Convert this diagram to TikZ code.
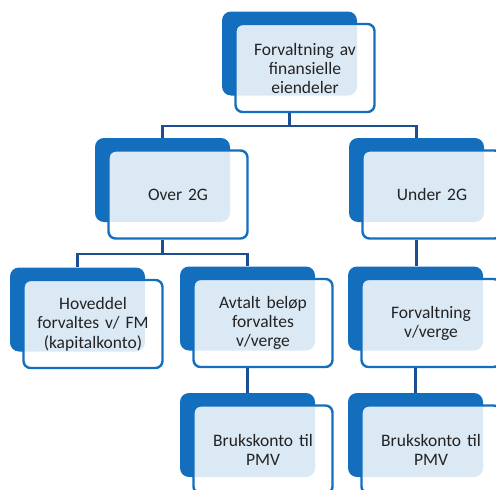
\documentclass[tikz,border=0pt]{standalone}
\usepackage{fontspec}
\setmainfont{Carlito}
\usetikzlibrary{calc}
\definecolor{boxblue}{RGB}{20,110,190}
\definecolor{linkblue}{RGB}{28,78,148}
\definecolor{txt}{RGB}{35,35,35}
\tikzset{
  backbox/.style={fill=boxblue, draw=none, rounded corners=9pt, minimum width=135pt, minimum height=84pt, inner sep=0pt},
  frontbox/.style={fill=white, fill opacity=0.85, text opacity=1, draw=boxblue, line width=2.4pt, rounded corners=7pt,
     minimum width=139pt, minimum height=88pt, inner sep=0pt, text width=128pt, align=center, text=txt,
     font=\fontsize{17.5}{19}\selectfont},
  conn/.style={draw=linkblue, line width=2.3pt},
}
\begin{document}
\begin{tikzpicture}[x=1pt,y=-1pt]
\clip (0,0) rectangle (496,490);
\fill[white] (0,0) rectangle (496,490);
% back boxes
\node[backbox] (top-b) at (289.5,53.5) {};
\node[backbox] (over-b) at (162.5,180) {};
\node[backbox] (under-b) at (416.5,180) {};
\node[backbox] (hov-b) at (77.5,309.5) {};
\node[backbox] (avt-b) at (247.5,308.5) {};
\node[backbox] (forv-b) at (415.5,308.5) {};
\node[backbox] (bruk1-b) at (247.5,435) {};
\node[backbox] (bruk2-b) at (415.5,435) {};
% front boxes
\node[frontbox] (top-f) at ($(top-b)+(15.5,14.5)$) {Forvaltning av\\finansielle\\eiendeler};
\node[frontbox] (over-f) at ($(over-b)+(15.5,14.5)$) {Over 2G};
\node[frontbox] (under-f) at ($(under-b)+(15.5,14.5)$) {Under 2G};
\node[frontbox] (hov-f) at ($(hov-b)+(15.5,14.5)$) {Hoveddel\\forvaltes v/ FM\\[1pt](kapitalkonto)};
\node[frontbox] (avt-f) at ($(avt-b)+(15.5,14.5)$) {Avtalt beløp\\forvaltes\\v/verge};
\node[frontbox] (forv-f) at ($(forv-b)+(15.5,14.5)$) {Forvaltning\\v/verge};
\node[frontbox] (bruk1-f) at ($(bruk1-b)+(15.5,14.5)$) {Brukskonto til\\PMV};
\node[frontbox] (bruk2-f) at ($(bruk2-b)+(15.5,14.5)$) {Brukskonto til\\PMV};
% connectors
\draw[conn] (top-b.center |- top-f.south) -- ++(0,12.5) -| (over-b.north);
\draw[conn] (top-b.center |- top-f.south) -- ++(0,12.5) -| (under-b.north);
\draw[conn] (over-b.center |- over-f.south) -- ++(0,14.5) -| (hov-b.north);
\draw[conn] (over-b.center |- over-f.south) -- ++(0,14.5) -| (avt-b.north);
\draw[conn] (under-b.center |- under-f.south) -- (under-b.center |- forv-b.north);
\draw[conn] (avt-b.center |- avt-f.south) -- (bruk1-b.north);
\draw[conn] (forv-b.center |- forv-f.south) -- (bruk2-b.north);
\end{tikzpicture}
\end{document}
